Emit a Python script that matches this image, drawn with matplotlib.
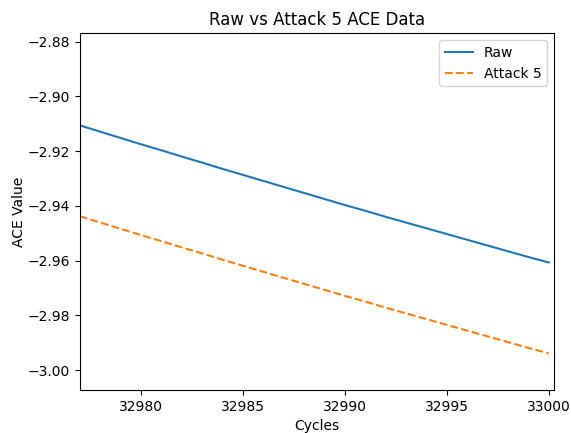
import matplotlib
matplotlib.use("Agg")
import matplotlib.pyplot as plt

cycles = list(range(32977, 33001))
raw = [-2.9106, -2.9129, -2.9152, -2.9175, -2.9197, -2.9220, -2.9242, -2.9265,
       -2.9287, -2.9309, -2.9331, -2.9353, -2.9375, -2.9397, -2.9418, -2.9440,
       -2.9461, -2.9482, -2.9503, -2.9524, -2.9545, -2.9566, -2.9587, -2.9607]
attack5 = [-2.9438, -2.9461, -2.9484, -2.9507, -2.9529, -2.9552, -2.9574, -2.9597,
           -2.9619, -2.9641, -2.9663, -2.9685, -2.9707, -2.9729, -2.9750, -2.9772,
           -2.9793, -2.9814, -2.9835, -2.9856, -2.9877, -2.9898, -2.9919, -2.9939]

fig = plt.figure(figsize=(5.71, 4.33), dpi=100)
ax = fig.add_axes([0.140, 0.0993, 0.830, 0.824])
ax.plot(cycles, raw, color="#1f77b4", linestyle="-", label="Raw")
ax.plot(cycles, attack5, color="#ff7f0e", linestyle="--", label="Attack 5")
ax.set_xlim(32977, 33000.25)
ax.set_ylim(-3.0073, -2.8769)
ax.set_xticks([32980, 32985, 32990, 32995, 33000])
ax.set_yticks([-3.00, -2.98, -2.96, -2.94, -2.92, -2.90, -2.88])
ax.set_title("Raw vs Attack 5 ACE Data")
ax.set_xlabel("Cycles")
ax.set_ylabel("ACE Value", labelpad=1)
ax.legend(loc="upper right")
fig.savefig("out.png", dpi=100)
